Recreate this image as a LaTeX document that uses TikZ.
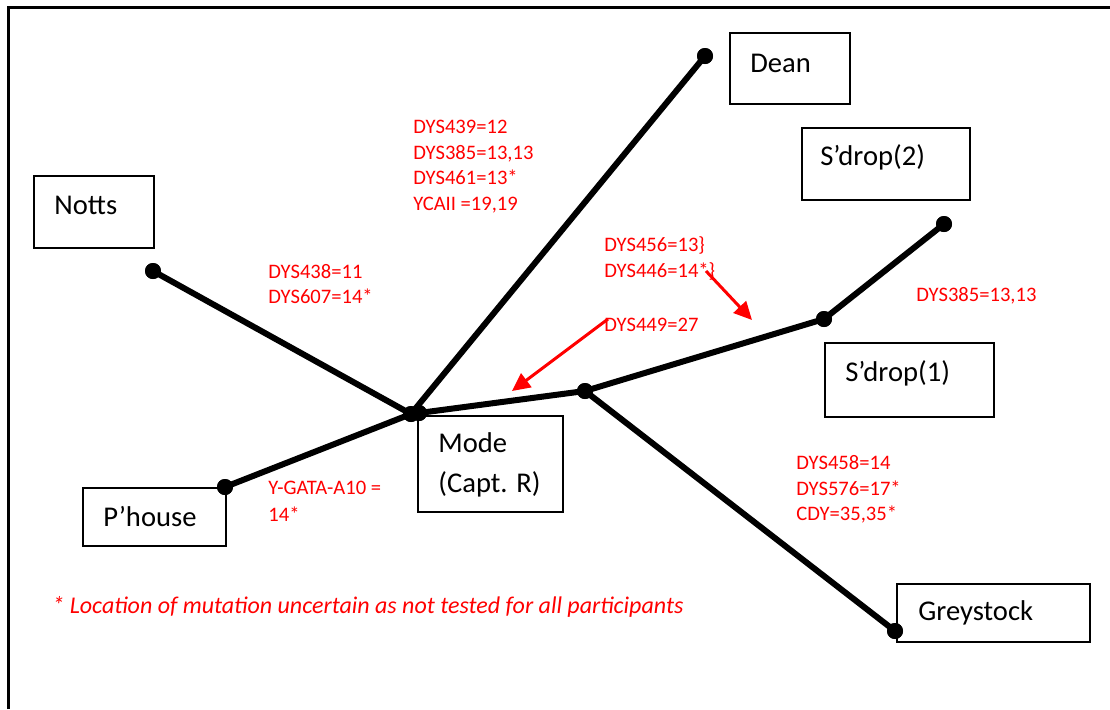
\documentclass[tikz,border=0pt]{standalone}
\usepackage{fontspec}
\setmainfont{Carlito}
\usetikzlibrary{arrows.meta,calc}
\definecolor{mutred}{RGB}{255,0,0}
\begin{document}
\begin{tikzpicture}[x=0.5pt,y=-0.5pt,
  box/.style={draw=black, line width=1pt, rectangle, inner sep=0pt, fill=white, anchor=north west},
  place/.style={font=\fontsize{14.3}{17.5}\selectfont, inner sep=0pt, anchor=west, align=left},
  branch/.style={line width=3pt},
  dot/.style={circle, fill=black, inner sep=0pt, minimum size=8pt},
  note/.style={text=mutred, font=\fontsize{10.3}{12.85}\selectfont, inner sep=0pt, anchor=west, align=left},
  marker/.style={draw=mutred, line width=1.5pt, -{Triangle[length=9pt,width=8.5pt]}}]
\useasboundingbox (0,0) rectangle (1110,709);

% frame
\draw[line width=1.5pt] (8,709) -- (8,7) -- (1110,7);

% place boxes
\node[box, minimum width=60pt, minimum height=36pt] (nottsbox) at (33,175) {};
\node[place] (nottstxt) at ($(nottsbox.north west)+(21,30)$) {Notts};
\node[box, minimum width=60pt, minimum height=35.5pt] (deanbox) at (729,32) {};
\node[place] (deantxt) at ($(deanbox.north west)+(21,31)$) {Dean};
\node[box, minimum width=84pt, minimum height=36pt] (sd2box) at (801,127) {};
\node[place] (sd2txt) at ($(sd2box.north west)+(19,30)$) {S’drop(2)};
\node[box, minimum width=84.5pt, minimum height=37pt] (sd1box) at (824,342) {};
\node[place] (sd1txt) at ($(sd1box.north west)+(21,31)$) {S’drop(1)};
\node[box, minimum width=72.5pt, minimum height=48pt] (modebox) at (417,415) {};
\node[place, font=\fontsize{14.3}{20}\selectfont] (modetxt) at ($(modebox.north west)+(21,50)$) {Mode\\(Capt. R)};
\node[box, minimum width=71.5pt, minimum height=29pt] (phbox) at (82,487) {};
\node[place] (phtxt) at ($(phbox.north west)+(21,30)$) {P’house};
\node[box, minimum width=96.5pt, minimum height=29pt] (greybox) at (896,583) {};
\node[place] (greytxt) at ($(greybox.north west)+(22,30)$) {Greystock};

% branch points
\node[dot] (notts) at (153,271) {};
\node[dot] (hubA) at (411,414) {};
\node[dot] (hubB) at (419,413) {};
\node[dot] (phouse) at (225,487) {};
\node[dot] (dean) at (705,56) {};
\node[dot] (mid) at (585,391) {};
\node[dot] (sdrop1) at (824,319) {};
\node[dot] (sdrop2) at (944,224) {};
\node[dot] (grey) at (895,631) {};

% tree branches
\draw[branch] (notts.center) -- (hubA.center);
\draw[branch] (phouse.center) -- (hubA.center);
\draw[branch] (hubA.center) -- (dean.center);
\draw[branch] (hubB.center) -- (mid.center);
\draw[branch] (mid.center) -- (sdrop1.center);
\draw[branch] (sdrop1.center) -- (sdrop2.center);
\draw[branch] (mid.center) -- (grey.center);

% redraw dots on top of branches
\foreach \p in {notts,hubA,hubB,phouse,dean,mid,sdrop1,sdrop2,grey}
  \fill (\p.center) circle[radius=4pt];

% mutation labels
\node[note] (n1) at (413,166.5) {DYS439=12\\DYS385=13,13\\DYS461=13*\\YCAII =19,19};
\node[note] (n2) at (268,284) {DYS438=11\\DYS607=14*};
\node[note] (n3) at (604,258.5) {DYS456=13\}\\DYS446=14*\}};
\node[note] (n4) at (604,325) {DYS449=27};
\node[note] (n5) at (916,296) {DYS385=13,13};
\node[note] (n6) at (796,489.5) {DYS458=14\\DYS576=17*\\CDY=35,35*};
\node[note, font=\fontsize{10.3}{13.5}\selectfont] (n7) at (268,501.5) {Y-GATA-A10 =\\14*};
\node[note, font=\fontsize{12}{14}\selectfont\itshape] (foot) at (52,607) {* Location of mutation uncertain as not tested for all participants};

% pointer arrows
\coordinate (a1s) at (706,271);
\coordinate (a1e) at (752,320);
\coordinate (a2s) at (608,319);
\coordinate (a2e) at (512,391);
\draw[marker] (a1s) -- (a1e);
\draw[marker] (a2s) -- (a2e);
\end{tikzpicture}
\end{document}
